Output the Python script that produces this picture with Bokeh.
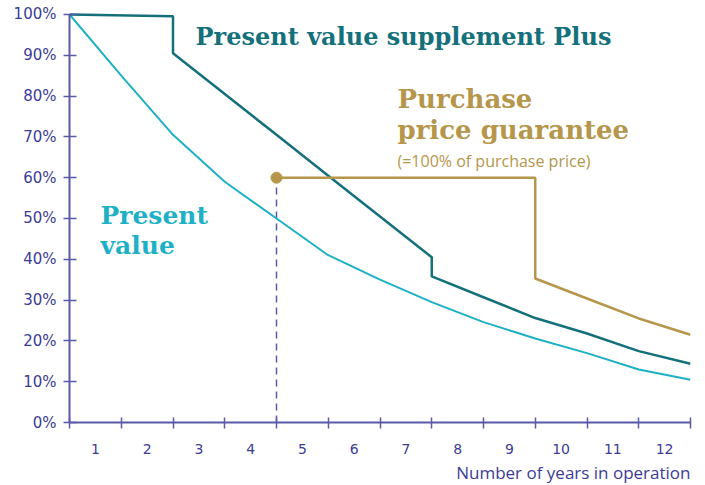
from bokeh.plotting import figure
from bokeh.models import FixedTicker, Label, Range1d, Title
from bokeh.embed import file_html
from bokeh.resources import INLINE

# ---- data ----
years_pv = [0, 1, 2, 3, 4, 5, 6, 7, 8, 9, 10, 11, 12]
present_value = [100, 85, 70.5, 59, 50, 41, 35, 29.5, 24.6, 20.6, 17, 13, 10.5]

years_plus = [0, 2, 2, 3, 4, 5, 6, 7, 7, 8, 9, 10, 11, 12]
supplement_plus = [100, 99.6, 90.5, 80.5, 70.5, 60.5, 50.5, 40.5, 35.8, 30.7, 25.6, 21.8, 17.5, 14.4]

years_guar = [4, 9, 9, 10, 11, 12]
price_guarantee = [60, 60, 35.3, 30.4, 25.5, 21.5]

guarantee_start_year = 4
guarantee_level = 60

y_ticks = [0, 10, 20, 30, 40, 50, 60, 70, 80, 90, 100]
y_tick_labels = ["0%", "10%", "20%", "30%", "40%", "50%", "60%", "70%", "80%", "90%", "100%"]
x_boundaries = list(range(0, 13))
x_label_pos = [0.5 + i for i in range(12)]
x_tick_labels = [str(i + 1) for i in range(12)]

# ---- colours ----
AXIS = "#5a5aa8"
LABEL = "#3c3c96"
CYAN = "#1eb1c5"
TEAL = "#14707b"
GOLD = "#b5964b"

p = figure(width=705, height=485, output_backend="svg", toolbar_location=None,
           x_range=Range1d(0, 12), y_range=Range1d(0, 103.43),
           min_border_left=69, min_border_right=15, min_border_top=0, min_border_bottom=63)
p.outline_line_color = None
p.xgrid.visible = False
p.ygrid.visible = False
p.background_fill_color = "white"

# y axis
ya = p.yaxis[0]
ya.ticker = FixedTicker(ticks=y_ticks, minor_ticks=[])
ya.major_label_overrides = {t: l for t, l in zip(y_ticks, y_tick_labels)}
ya.bounds = (0, 100)
ya.axis_line_color = AXIS
ya.axis_line_width = 2
ya.major_tick_line_color = AXIS
ya.major_tick_line_width = 1.5
ya.major_tick_in = 7
ya.major_tick_out = 6
ya.minor_tick_line_color = None
ya.major_label_standoff = 7
ya.major_label_text_font = "DejaVu Sans"
ya.major_label_text_font_size = "15px"
ya.major_label_text_color = LABEL

# x axis
xa = p.xaxis[0]
xa.ticker = FixedTicker(ticks=x_label_pos, minor_ticks=x_boundaries)
xa.major_label_overrides = {t: l for t, l in zip(x_label_pos, x_tick_labels)}
xa.bounds = (0, 12)
xa.axis_line_color = AXIS
xa.axis_line_width = 2
xa.major_tick_line_color = None
xa.major_tick_in = 0
xa.major_tick_out = 0
xa.minor_tick_line_color = AXIS
xa.minor_tick_line_width = 1.5
xa.minor_tick_in = 5
xa.minor_tick_out = 6
xa.major_label_standoff = 15
xa.major_label_text_font = "DejaVu Sans"
xa.major_label_text_font_size = "14px"
xa.major_label_text_color = LABEL

p.add_layout(Title(text="Number of years in operation", align="right",
                   vertical_align="bottom",
                   text_font="Open Sans", text_font_size="17px",
                   text_font_style="normal", text_color=LABEL,
                   standoff=4, offset=0), "below")

# lines
p.line([guarantee_start_year, guarantee_start_year], [0, guarantee_level],
       line_color=AXIS, line_width=1.5, line_dash="7 5")
p.line(years_pv, present_value, line_color=CYAN, line_width=2)
p.line(years_plus, supplement_plus, line_color=TEAL, line_width=2.5)
p.line(years_guar, price_guarantee, line_color=GOLD, line_width=2.5)
p.scatter([guarantee_start_year], [guarantee_level], size=11, color=GOLD)

def lab(x, y, text, color, font, size, style="normal", align="left"):
    p.add_layout(Label(x=x, y=y, text=text, text_color=color, text_font=font,
                       text_font_size=size, text_font_style=style,
                       text_align=align, text_baseline="alphabetic"))

lab(2.435, 94.6, "Present value supplement Plus", TEAL, "DejaVu Serif", "24px", "bold")
lab(6.338, 79.2, "Purchase", GOLD, "DejaVu Serif", "26px", "bold")
lab(6.338, 71.8, "price guarantee", GOLD, "DejaVu Serif", "26px", "bold")
lab(6.338, 64.2, "(=100% of purchase price)", GOLD, "Open Sans", "16px")
lab(0.599, 50.7, "Present", CYAN, "DejaVu Serif", "25px", "bold")
lab(0.599, 43.4, "value", CYAN, "DejaVu Serif", "25px", "bold")

open("out.html", "w").write(file_html(p, INLINE))
